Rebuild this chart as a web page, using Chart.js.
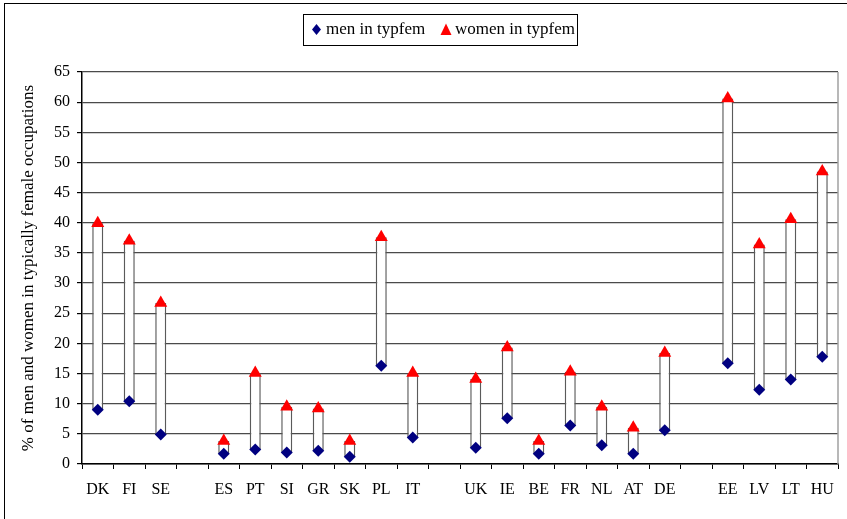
<!DOCTYPE html>
<html>
<head>
<meta charset="utf-8">
<script src="https://cdn.jsdelivr.net/npm/chart.js@4/dist/chart.umd.min.js"></script>
<style>
  html, body { margin: 0; padding: 0; background: #fff; }
  #wrap { width: 847px; height: 519px; position: relative; }
</style>
</head>
<body>
<div id="wrap"><canvas id="c" width="847" height="519"></canvas></div>
<script>
// Country groups, separated by empty slots
const countries = ['DK', 'FI', 'SE', '', 'ES', 'PT', 'SI', 'GR', 'SK', 'PL', 'IT', '',
                   'UK', 'IE', 'BE', 'FR', 'NL', 'AT', 'DE', '', 'EE', 'LV', 'LT', 'HU'];

// Share of men / women working in typically female occupations (%)
const menInTypfem   = [9.0, 10.4, 4.9, null, 1.7, 2.4, 1.9, 2.2, 1.2, 16.3, 4.4, null,
                       2.7, 7.6, 1.7, 6.4, 3.1, 1.7, 5.6, null, 16.7, 12.3, 14.0, 17.8];
const womenInTypfem = [39.9, 37.0, 26.7, null, 3.8, 15.1, 9.5, 9.2, 3.8, 37.6, 15.1, null,
                       14.1, 19.3, 3.8, 15.3, 9.5, 6.0, 18.4, null, 60.6, 36.4, 40.6, 48.5];

const yTicks = [0, 5, 10, 15, 20, 25, 30, 35, 40, 45, 50, 55, 60, 65];

const FONT = '"Liberation Serif", "Times New Roman", serif';

// floating bar spanning men -> women value for each country
const spans = menInTypfem.map((m, i) => (m === null ? null : [m, womenInTypfem[i]]));

const LEFT = 82, RIGHT_PAD = 9, TOP = 72, BOTTOM_H = 55;

const framePlugin = {
  id: 'frame',
  beforeDraw(chart) {
    const ctx = chart.ctx;
    ctx.save();
    ctx.fillStyle = '#fff';
    ctx.fillRect(0, 0, chart.width, chart.height);
    ctx.strokeStyle = '#000';
    ctx.lineWidth = 1;
    ctx.strokeRect(4.5, 3.5, chart.width + 10, chart.height + 10);
    ctx.restore();
  },
  afterDatasetsDraw(chart) {
    // right edge of the plot area
    const a = chart.chartArea;
    const ctx = chart.ctx;
    ctx.save();
    ctx.strokeStyle = '#a0a0a0';
    ctx.lineWidth = 1.5;
    ctx.beginPath();
    ctx.moveTo(a.right, a.top);
    ctx.lineTo(a.right, a.bottom);
    ctx.stroke();
    ctx.restore();
  },
  afterDraw(chart) {
    // boxed legend at the top
    const ctx = chart.ctx;
    ctx.save();
    ctx.strokeStyle = '#000';
    ctx.lineWidth = 1;
    ctx.strokeRect(303.5, 14.5, 274, 31);
    ctx.font = '17px ' + FONT;
    ctx.textBaseline = 'middle';
    ctx.textAlign = 'left';
    // diamond
    ctx.fillStyle = '#000080';
    ctx.beginPath();
    ctx.moveTo(316.5, 24); ctx.lineTo(321, 29.5); ctx.lineTo(316.5, 35); ctx.lineTo(312, 29.5);
    ctx.closePath(); ctx.fill();
    ctx.fillStyle = '#000';
    ctx.fillText('men in typfem', 326, 30);
    // triangle
    ctx.fillStyle = '#ff0000';
    ctx.beginPath();
    ctx.moveTo(446, 23.5); ctx.lineTo(451.5, 35); ctx.lineTo(440.5, 35);
    ctx.closePath(); ctx.fill();
    ctx.fillStyle = '#000';
    ctx.fillText('women in typfem', 455, 30);
    ctx.restore();
  }
};

new Chart(document.getElementById('c'), {
  type: 'bar',
  data: {
    labels: countries,
    datasets: [
      {
        type: 'line',
        label: 'women in typfem',
        data: womenInTypfem,
        showLine: false,
        pointStyle: 'triangle',
        pointRadius: 7.5,
        backgroundColor: '#ff0000',
        borderColor: '#ff0000',
        borderWidth: 0,
        order: 0
      },
      {
        type: 'line',
        label: 'men in typfem',
        data: menInTypfem,
        showLine: false,
        pointStyle: 'rectRot',
        pointRadius: 6,
        backgroundColor: '#000080',
        borderColor: '#000080',
        borderWidth: 0,
        order: 1
      },
      {
        label: 'range',
        data: spans,
        backgroundColor: '#ffffff',
        borderColor: '#5a5a5a',
        borderWidth: 1.5,
        borderSkipped: false,
        barPercentage: 0.35,
        categoryPercentage: 1.0,
        order: 2
      }
    ]
  },
  options: {
    responsive: false,
    animation: false,
    layout: { padding: { left: 0, right: RIGHT_PAD, top: TOP, bottom: 0 } },
    plugins: {
      legend: { display: false },
      tooltip: { enabled: false }
    },
    scales: {
      x: {
        offset: true,
        afterFit(scale) { scale.height = BOTTOM_H; },
        grid: {
          offset: true,
          drawOnChartArea: false,
          drawTicks: true,
          tickLength: 5,
          color: '#000',
          lineWidth: 1
        },
        border: { display: true, color: '#000', width: 1.5 },
        ticks: {
          color: '#000',
          font: { family: FONT, size: 16 },
          padding: 11,
          maxRotation: 0,
          autoSkip: false
        }
      },
      y: {
        min: 0,
        max: 65,
        afterFit(scale) { scale.width = LEFT; },
        afterBuildTicks(scale) { scale.ticks = yTicks.map(v => ({ value: v })); },
        grid: {
          color: '#4a4a4a',
          lineWidth: 1.2,
          drawTicks: true,
          tickLength: 5,
          tickColor: '#000'
        },
        border: { display: true, color: '#000', width: 1.5 },
        ticks: {
          color: '#000',
          font: { family: FONT, size: 16 },
          padding: 7
        },
        title: {
          display: true,
          text: '% of men and women in typically female occupations',
          color: '#000',
          font: { family: FONT, size: 17 },
          padding: { top: 18, bottom: 0 }
        }
      }
    }
  },
  plugins: [framePlugin]
});
</script>
</body>
</html>
